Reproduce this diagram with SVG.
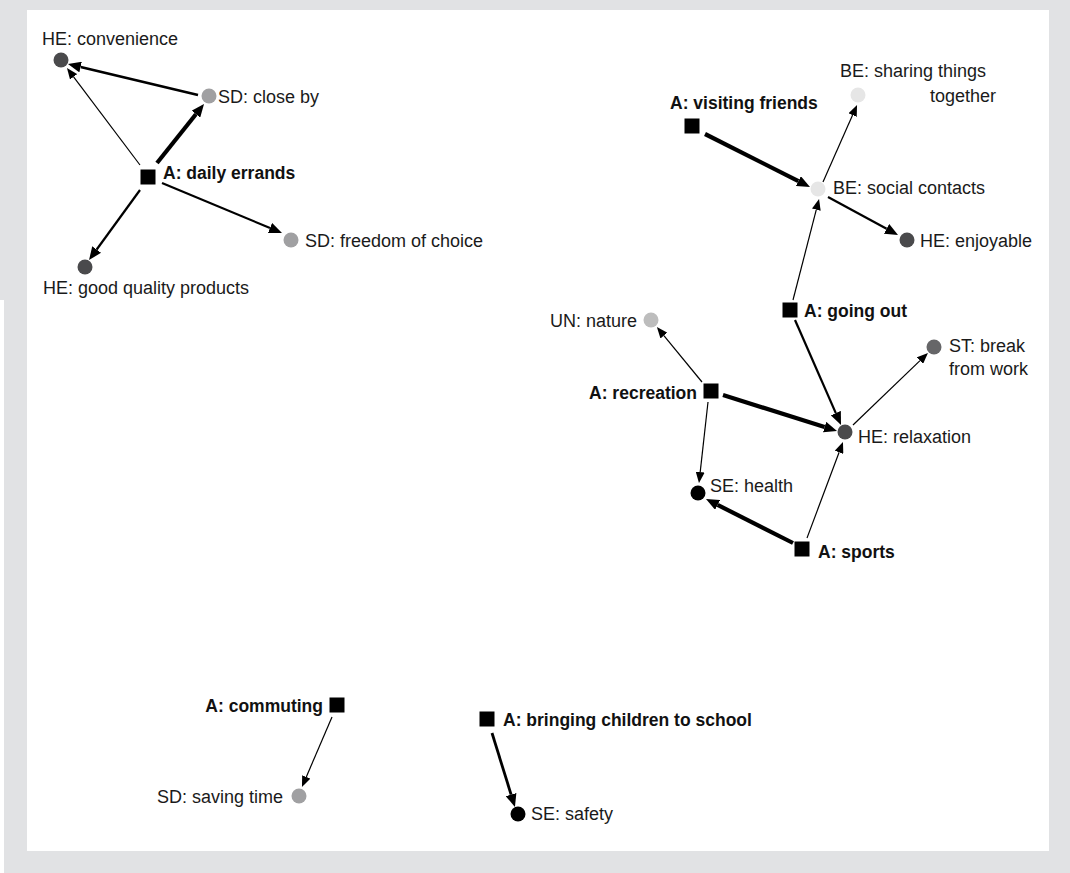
<svg xmlns="http://www.w3.org/2000/svg" width="1070" height="873" viewBox="0 0 1070 873">
  <style>
    .lbl { font-family: "Liberation Sans", Arial, sans-serif; font-size: 18px; fill: #1a1a1a; }
    .act { font-family: "Liberation Sans", Arial, sans-serif; font-size: 17.5px; font-weight: bold; fill: #111; }
    .end { text-anchor: end; }
    .sq { fill: #000; }
    .he { fill: #4a4a4c; }
    .sd { fill: #a0a0a2; }
    .un { fill: #bdbdbd; }
    .st { fill: #666668; }
    .be { fill: #e6e6e6; }
    .se { fill: #000; }
    .c { stroke: #000; fill: none; stroke-linecap: butt; }
    .w1 { stroke-width: 1.2; marker-end: url(#ahS); }
    .w2 { stroke-width: 2.2; marker-end: url(#ahL); }
    .w3 { stroke-width: 2.8; marker-end: url(#ahL); }
    .w4 { stroke-width: 4.2; marker-end: url(#ahL); }
  </style>
  <defs>
    <marker id="ahL" markerUnits="userSpaceOnUse" viewBox="0 -5.5 13 11" refX="0" refY="0" markerWidth="13" markerHeight="11" orient="auto">
      <path d="M0,-5.5 L13,0 L0,5.5 z" fill="#000"/>
    </marker>
    <marker id="ahS" markerUnits="userSpaceOnUse" viewBox="0 -4.5 11 9" refX="0" refY="0" markerWidth="11" markerHeight="9" orient="auto">
      <path d="M0,-4.5 L11,0 L0,4.5 z" fill="#000"/>
    </marker>
  </defs>

  <!-- frame -->
  <rect x="0" y="0" width="1070" height="873" fill="#e1e2e4"/>
  <rect x="0" y="300" width="4" height="573" fill="#fff"/>
  <rect x="27" y="10" width="1022" height="841" fill="#fff"/>

  <!-- connectors -->
  <g id="connectors">
    <line class="c w3" x1="198" y1="95" x2="80.6" y2="67.0"/>
    <line class="c w1" x1="140" y1="165" x2="73.6" y2="76.8"/>
    <line class="c w4" x1="157" y1="163" x2="195.9" y2="114.2"/>
    <line class="c w2" x1="162" y1="183" x2="270.0" y2="228.0"/>
    <line class="c w2" x1="140" y1="190" x2="96.7" y2="249.5"/>

    <line class="c w4" x1="705" y1="134" x2="798.4" y2="181.1"/>
    <line class="c w1" x1="823" y1="182" x2="852.6" y2="115.1"/>
    <line class="c w2" x1="828" y1="197" x2="886.6" y2="228.8"/>
    <line class="c w1" x1="793" y1="300" x2="816.3" y2="209.7"/>
    <line class="c w2" x1="795" y1="320" x2="835.8" y2="413.1"/>
    <line class="c w4" x1="723" y1="395" x2="824.6" y2="427.1"/>
    <line class="c w1" x1="702" y1="382" x2="663.9" y2="335.6"/>
    <line class="c w1" x1="708" y1="402" x2="700.2" y2="472.1"/>
    <line class="c w4" x1="793" y1="543" x2="717.6" y2="504.9"/>
    <line class="c w1" x1="807" y1="538" x2="839.1" y2="452.3"/>
    <line class="c w1" x1="853" y1="425" x2="920.0" y2="360.6"/>

    <line class="c w1" x1="332" y1="717" x2="306.3" y2="776.9"/>
    <line class="c w3" x1="492" y1="733" x2="511.1" y2="794.6"/>
  </g>

  <!-- daily errands cluster -->
  <g id="a-daily-errands">
    <rect class="sq" x="140.5" y="169.5" width="15" height="15"/>
    <text class="act" x="163" y="179">A: daily errands</text>
  </g>
  <g id="he-convenience">
    <circle class="he" cx="61" cy="60" r="7.5"/>
    <text class="lbl" x="42" y="45">HE: convenience</text>
  </g>
  <g id="sd-close-by">
    <circle class="sd" cx="209" cy="96" r="7.5"/>
    <text class="lbl" x="218" y="103">SD: close by</text>
  </g>
  <g id="sd-freedom-of-choice">
    <circle class="sd" cx="291" cy="240" r="7.5"/>
    <text class="lbl" x="305" y="247">SD: freedom of choice</text>
  </g>
  <g id="he-good-quality-products">
    <circle class="he" cx="85" cy="267" r="7.5"/>
    <text class="lbl" x="43" y="294">HE: good quality products</text>
  </g>

  <!-- leisure cluster -->
  <g id="a-visiting-friends">
    <rect class="sq" x="684.5" y="118.5" width="15" height="15"/>
    <text class="act" x="670" y="109">A: visiting friends</text>
  </g>
  <g id="be-sharing-things-together">
    <circle class="be" cx="858" cy="95" r="7.5"/>
    <text class="lbl" x="840" y="77">BE: sharing things</text>
    <text class="lbl end" x="996" y="102">together</text>
  </g>
  <g id="be-social-contacts">
    <circle class="be" cx="818" cy="189" r="7.5"/>
    <text class="lbl" x="833" y="194">BE: social contacts</text>
  </g>
  <g id="he-enjoyable">
    <circle class="he" cx="907" cy="240" r="7.5"/>
    <text class="lbl" x="920" y="247">HE: enjoyable</text>
  </g>
  <g id="a-going-out">
    <rect class="sq" x="782.5" y="302.5" width="15" height="15"/>
    <text class="act" x="804" y="317">A: going out</text>
  </g>
  <g id="un-nature">
    <circle class="un" cx="651" cy="320" r="7.5"/>
    <text class="lbl end" x="637" y="327">UN: nature</text>
  </g>
  <g id="st-break-from-work">
    <circle class="st" cx="934" cy="347" r="7.5"/>
    <text class="lbl" x="949" y="352">ST: break</text>
    <text class="lbl" x="949" y="375">from work</text>
  </g>
  <g id="a-recreation">
    <rect class="sq" x="703.5" y="383.5" width="15" height="15"/>
    <text class="act end" x="697" y="399">A: recreation</text>
  </g>
  <g id="he-relaxation">
    <circle class="he" cx="845" cy="432" r="7.5"/>
    <text class="lbl" x="858" y="443">HE: relaxation</text>
  </g>
  <g id="se-health">
    <circle class="se" cx="698" cy="493" r="7.5"/>
    <text class="lbl" x="710" y="492">SE: health</text>
  </g>
  <g id="a-sports">
    <rect class="sq" x="794.5" y="541.5" width="15" height="15"/>
    <text class="act" x="818" y="558">A: sports</text>
  </g>

  <!-- travel cluster -->
  <g id="a-commuting">
    <rect class="sq" x="329.5" y="697.5" width="15" height="15"/>
    <text class="act end" x="323" y="712">A: commuting</text>
  </g>
  <g id="sd-saving-time">
    <circle class="sd" cx="299" cy="796" r="7.5"/>
    <text class="lbl end" x="283" y="803">SD: saving time</text>
  </g>
  <g id="a-bringing-children-to-school">
    <rect class="sq" x="479.5" y="711.5" width="15" height="15"/>
    <text class="act" x="503" y="726">A: bringing children to school</text>
  </g>
  <g id="se-safety">
    <circle class="se" cx="518" cy="814" r="7.5"/>
    <text class="lbl" x="531" y="820">SE: safety</text>
  </g>
</svg>
